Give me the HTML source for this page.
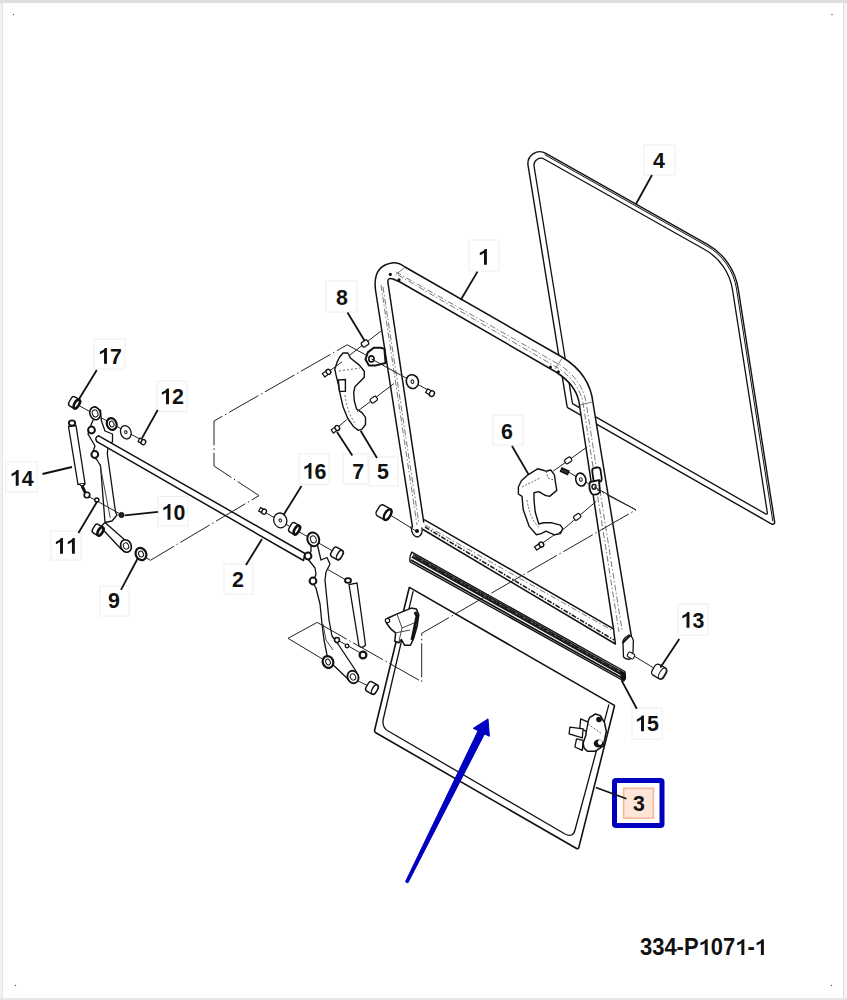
<!DOCTYPE html>
<html><head><meta charset="utf-8"><style>
html,body{margin:0;padding:0;background:#fff;width:847px;height:1000px;overflow:hidden}
svg{display:block}
text{font-family:"Liberation Sans",sans-serif;font-weight:bold}
</style></head><body>
<svg width="847" height="1000" viewBox="0 0 847 1000">

<rect x="0" y="0" width="847" height="1000" fill="#fff"/>
<rect x="0" y="0" width="847" height="3" fill="#dedede"/>
<rect x="0" y="3" width="3" height="997" fill="#f2f2f2"/>
<rect x="2" y="3" width="1" height="995" fill="#e4e4e4"/>
<rect x="843" y="3" width="4" height="997" fill="#f4f4f4"/>
<rect x="843" y="3" width="1" height="995" fill="#dcdcdc"/>
<rect x="0" y="998" width="847" height="2" fill="#e6e6e6"/>
<circle cx="13.5" cy="14.5" r="0.7" fill="#555"/>
<circle cx="831.5" cy="985.5" r="0.7" fill="#555"/>
<circle cx="15.5" cy="985.5" r="0.7" fill="#555"/>
<circle cx="832" cy="14.5" r="0.7" fill="#555"/>
<path d="M545.82,153.33 L707.41,244.35 A62.00,62.00 0 0 1 738.24,288.80 L774.66,521.99 A2.00,2.00 0 0 1 771.69,524.04 L568.03,407.77 A2.00,2.00 0 0 1 567.05,406.36 L528.08,165.71 A12.00,12.00 0 0 1 545.82,153.33 Z" fill="none" stroke="#111" stroke-linejoin="round" stroke-linecap="round" stroke-width="1.4"/>
<path d="M544.42,159.20 L704.65,249.45 A56.00,56.00 0 0 1 732.49,289.60 L767.39,513.04 A1.00,1.00 0 0 1 765.91,514.06 L572.90,403.87 A1.00,1.00 0 0 1 572.41,403.17 L534.08,166.42 A7.00,7.00 0 0 1 544.42,159.20 Z" fill="none" stroke="#111" stroke-linejoin="round" stroke-linecap="round" stroke-width="1.3"/>
<path d="M544.98,154.81 L706.57,245.83 A60.3,60.3 0 0 1 736.56,289.06 L772.75,520.82" fill="none" stroke="#111" stroke-linejoin="round" stroke-linecap="round" stroke-width="1.0"/>
<path d="M412.5,527 L375.5,290 Q372.5,266 392,263 Q398,262 405,267 L562,357 Q590,374 593,403 L631.5,637 L615.4,644 L423,529.5 Z M423.7,522 L388,283 Q387,277 393,279 L400,282 L556,372 Q576,385 579,402 L613.5,628.8 L424.6,519.8 Z" fill="#fff" fill-rule="evenodd" stroke="none"/>
<path d="M412.5,527 L375.5,290 Q372.5,266 392,263 Q398,262 405,267 L562,357 Q590,374 593,403 L631.5,637" fill="none" stroke="#111" stroke-linejoin="round" stroke-linecap="round" stroke-width="1.5"/>
<path d="M423.7,522 L388,283 Q387,277 393,279 L400,282 L556,372 Q576,385 579,402 L613.5,628.8" fill="none" stroke="#111" stroke-linejoin="round" stroke-linecap="round" stroke-width="1.5"/>
<path d="M424.6,519.8 L613.5,628.8" fill="none" stroke="#111" stroke-linejoin="round" stroke-linecap="round" stroke-width="1.5"/>
<path d="M423,529.5 L615.4,644 L613.5,628.8" fill="none" stroke="#111" stroke-linejoin="round" stroke-linecap="round" stroke-width="1.5"/>
<path d="M425,527 L614,640" fill="none" stroke="#222" stroke-width="1.6" stroke-dasharray="5 1.5 1.5 1.5"/>
<circle cx="390.3" cy="274.4" r="1.6" fill="#111"/><circle cx="399" cy="279.8" r="1.6" fill="#111"/>
<circle cx="550.5" cy="367" r="1.5" fill="#111"/><circle cx="558.4" cy="371.7" r="1.5" fill="#111"/>
<path d="M404.8,267.4 L395.7,274.8 M562,358.4 L555,369 M593,401.8 L580,405" fill="none" stroke="#444" stroke-width="0.7"/>
<path d="M411,527 Q412,537 418,537 Q423,535 422,528" fill="none" stroke="#111" stroke-linejoin="round" stroke-linecap="round" stroke-width="1.3"/>
<circle cx="417" cy="531" r="2" fill="#111"/>
<path d="M629,635 Q622,639 623,643 L623.5,657 Q626,660 630,659 Q633,656 633,652 L633.4,640.6 Q632,636 629,635 Z" fill="#fff" stroke="#111" stroke-width="1.3"/>
<path d="M622.5,643 L630,635.5" stroke="#111" stroke-width="2.2"/>
<g transform="translate(631,655.5) rotate(30)"><rect x="-3.5" y="-2.6" width="7" height="5.2" rx="1.5" fill="#fff" stroke="#111" stroke-width="1.1"/></g>
<path d="M381,285 L417,525" fill="none" stroke="#555" stroke-width="0.8" stroke-dasharray="6 2 1.5 2.5"/>
<path d="M396,272 L560,365 Q582,380 586,402 L622,630" fill="none" stroke="#555" stroke-width="0.8" stroke-dasharray="6 2 1.5 2.5"/>
<path d="M425,525 L615,632" fill="none" stroke="#555" stroke-width="0.8" stroke-dasharray="6 2 1.5 2.5"/>
<path d="M383,287 L419,524" fill="none" stroke="#555" stroke-width="0.8" stroke-dasharray="6 2 1.5 2.5"/>
<path d="M398,275 L558,368 Q579,382 583,403 L619,632" fill="none" stroke="#555" stroke-width="0.8" stroke-dasharray="6 2 1.5 2.5"/>
<path d="M411.8,552.2 L624.8,671.5 L625.5,678 L623.8,681 L410.2,561.8 Q409,557 411.8,552.2 Z" fill="#fff" stroke="#111" stroke-width="1.4" stroke-linejoin="round"/>
<path d="M412.5,555.8 L624.5,674.8" fill="none" stroke="#1a1a1a" stroke-width="4.2"/>
<path d="M413,555.5 L623,673.5" fill="none" stroke="#777" stroke-width="1" stroke-dasharray="3 2 1 3"/>
<path d="M411,560 L624,679" fill="none" stroke="#111" stroke-width="1.8"/>
<path d="M620,670 L625.5,673 L625.5,680 L621,680 Z" fill="#111"/>
<path d="M409.88,587.63 L613.94,705.12 A1.00,1.00 0 0 1 614.42,706.23 L578.79,847.58 A1.50,1.50 0 0 1 576.58,848.51 L375.82,732.74 A2.50,2.50 0 0 1 374.64,729.98 L409.14,587.95 A0.50,0.50 0 0 1 409.88,587.63 Z" fill="none" stroke="#111" stroke-linejoin="round" stroke-linecap="round" stroke-width="1.6"/>
<path d="M413,591.6 L383.3,719 Q381.5,728 389,731.5 L565,834 Q573,838 575,830 L608.8,704.9" fill="none" stroke="#111" stroke-linejoin="round" stroke-linecap="round" stroke-width="1.3"/>
<line x1="79.2" y1="405.7" x2="142.4" y2="440.5" stroke="#222" stroke-width="1.0"/>
<path d="M68.5,426.5 L78,484.5 L85,483.5 L76,425.5 Z" fill="#fff" stroke="#111" stroke-width="1.3"/>
<ellipse cx="72" cy="423" rx="3.2" ry="2.6" fill="#fff" stroke="#111" stroke-width="1.8"/>
<path d="M79.5,484 Q82,488 85,484" fill="#fff" stroke="#111" stroke-width="1.4"/>
<path d="M82,486 L86,494" stroke="#111" stroke-width="3"/>
<circle cx="87" cy="495" r="2.8" fill="#fff" stroke="#111" stroke-width="1.6"/>
<path d="M100.5,410 L101.3,420.5 L105,431 L112.5,434 L112.5,441.5 L108,447.5 L107.3,453.5 L115.5,512 L117,515 L112,521 L105,522.5 L100.5,465.5 L97,460 L92,454 L95,446 L88,434 L91,425 L94,418 Z" fill="#fff" stroke="#111" stroke-width="1.3" stroke-linejoin="round"/>
<path d="M99.8,464 L110.3,518" fill="none" stroke="#333" stroke-width="0.9"/>
<circle cx="91.5" cy="430" r="3.4" fill="#fff" stroke="#111" stroke-width="2.0"/>
<circle cx="94.8" cy="454.5" r="3.4" fill="#fff" stroke="#111" stroke-width="2.0"/>
<path d="M98.7,435.8 L305,553.5 L303.5,560.5 L96.9,441.7 Q94,437.5 98.7,435.8 Z" fill="#fff" stroke="#111" stroke-width="1.5" stroke-linejoin="round"/>
<g transform="translate(74.5,402.7) rotate(30)"><rect x="-5.00" y="-5.20" width="10.00" height="10.40" rx="2.86" fill="#fff" stroke="#111" stroke-width="1.4"/><ellipse cx="2.66" cy="0" rx="2.34" ry="4.94" fill="#fff" stroke="#111" stroke-width="2.6"/></g>
<g transform="translate(95.1,413.3) rotate(-20)"><ellipse cx="0" cy="0" rx="5.2" ry="6.5" fill="#fff" stroke="#111" stroke-width="1.6"/><ellipse cx="0" cy="0" rx="2.8" ry="3.6" fill="#fff" stroke="#111" stroke-width="1.0"/></g>
<g transform="translate(111.7,424) rotate(-20)"><ellipse cx="0" cy="0" rx="4.8" ry="6" fill="#fff" stroke="#111" stroke-width="2.2"/><ellipse cx="0" cy="0" rx="2.2" ry="3" fill="#fff" stroke="#111" stroke-width="1.0"/></g>
<g transform="translate(125.8,432.2) rotate(-20)"><ellipse cx="0" cy="0" rx="5.2" ry="6.8" fill="#fff" stroke="#111" stroke-width="1.3"/><ellipse cx="0" cy="0" rx="1.2" ry="1.5" fill="#fff" stroke="#111" stroke-width="1.0"/></g>
<path d="M138.1,441.6 L142.5,443.9 L144.3,440.4 L139.9,438.1 Z" fill="#fff" stroke="#111" stroke-width="1.2"/>
<ellipse cx="143.40736898214732" cy="442.1736789069647" rx="2.2" ry="2.6" transform="rotate(28 143.40736898214732 442.1736789069647)" fill="#fff" stroke="#111" stroke-width="1.4"/>
<path d="M105,522.5 L130.5,545 L126,551 L121.5,549.5 L100.5,527 Z" fill="#fff" stroke="#111" stroke-width="1.3" stroke-linejoin="round"/>
<g transform="translate(98,530) rotate(30)"><rect x="-5.00" y="-5.00" width="10.00" height="10.00" rx="2.75" fill="#fff" stroke="#111" stroke-width="1.4"/><ellipse cx="2.75" cy="0" rx="2.25" ry="4.75" fill="#fff" stroke="#111" stroke-width="2.6"/></g>
<g transform="translate(126,546) rotate(-25)"><ellipse cx="0" cy="0" rx="5.2" ry="6.4" fill="#fff" stroke="#111" stroke-width="1.6"/><ellipse cx="0" cy="0" rx="2.6" ry="3.2" fill="#fff" stroke="#111" stroke-width="1.0"/></g>
<g transform="translate(141,554) rotate(-25)"><ellipse cx="0" cy="0" rx="5.2" ry="6.3" fill="#fff" stroke="#111" stroke-width="2.2"/><ellipse cx="0" cy="0" rx="2.4" ry="3" fill="#fff" stroke="#111" stroke-width="1.0"/></g>
<line x1="88" y1="496" x2="122" y2="515" stroke="#222" stroke-width="1.0"/>
<circle cx="96.8" cy="500" r="2" fill="#fff" stroke="#111" stroke-width="1.5"/>
<circle cx="121.5" cy="515" r="2.6" fill="#222" stroke="#111" stroke-width="1"/>
<line x1="261.9" y1="510.5" x2="337" y2="553.5" stroke="#222" stroke-width="1.0"/>
<path d="M258.8,511.1 L263.2,513.4 L265.0,509.9 L260.6,507.6 Z" fill="#fff" stroke="#111" stroke-width="1.2"/>
<ellipse cx="264.1073689821473" cy="511.6736789069647" rx="2.2" ry="2.6" transform="rotate(28 264.1073689821473 511.6736789069647)" fill="#fff" stroke="#111" stroke-width="1.4"/>
<g transform="translate(280.3,520.4) rotate(-20)"><ellipse cx="0" cy="0" rx="6.5" ry="7.5" fill="#fff" stroke="#111" stroke-width="1.3"/><ellipse cx="0" cy="0" rx="1.2" ry="1.5" fill="#fff" stroke="#111" stroke-width="1.0"/></g>
<g transform="translate(294.5,528.7) rotate(30)"><rect x="-5.00" y="-5.20" width="10.00" height="10.40" rx="2.86" fill="#fff" stroke="#111" stroke-width="1.4"/><ellipse cx="2.66" cy="0" rx="2.34" ry="4.94" fill="#fff" stroke="#111" stroke-width="2.6"/></g>
<path d="M317,543 L320,556 L321,560 L327,557.5 L330,564 L326,572 L325,580 L329,620 L332,636 L338,644 L346,656 L356,671 L357,677 L350,681 L328,660 L324,640 L322,624 L320,604 L316,588 L313,583 L316,574 L315,568 L308,559 L311,551 L311,545 Z" fill="#fff" stroke="#111" stroke-width="1.3" stroke-linejoin="round"/>
<path d="M323,624 L326,640 L333,650" fill="none" stroke="#333" stroke-width="0.9"/>
<circle cx="308" cy="556" r="3.4" fill="#fff" stroke="#111" stroke-width="2.0"/>
<circle cx="313" cy="581" r="3.4" fill="#fff" stroke="#111" stroke-width="2.0"/>
<g transform="translate(313.3,539.3) rotate(-20)"><ellipse cx="0" cy="0" rx="5.8" ry="7" fill="#fff" stroke="#111" stroke-width="2.0"/><ellipse cx="0" cy="0" rx="2.8" ry="3.6" fill="#fff" stroke="#111" stroke-width="1.0"/></g>
<g transform="translate(337,553.5) rotate(30)"><rect x="-5.50" y="-5.40" width="11.00" height="10.80" rx="2.97" fill="#fff" stroke="#111" stroke-width="1.4"/><ellipse cx="3.07" cy="0" rx="2.43" ry="5.13" fill="#fff" stroke="#111" stroke-width="1.4"/></g>
<line x1="327" y1="569" x2="346" y2="580" stroke="#222" stroke-width="1.0"/>
<path d="M349,584.5 L359,646 Q362,649 365.5,645 L357,583 Z" fill="#fff" stroke="#111" stroke-width="1.3"/>
<ellipse cx="348" cy="580.5" rx="3" ry="2.4" fill="#fff" stroke="#111" stroke-width="1.8"/>
<line x1="334" y1="638" x2="366" y2="656" stroke="#222" stroke-width="1.0"/>
<circle cx="337" cy="640" r="2.4" fill="#fff" stroke="#111" stroke-width="1.5"/>
<circle cx="347" cy="646" r="1.8" fill="#fff" stroke="#111" stroke-width="1.3"/>
<circle cx="363" cy="655" r="3.4" fill="#fff" stroke="#111" stroke-width="2.2"/>
<g transform="translate(328,662) rotate(-25)"><ellipse cx="0" cy="0" rx="5.2" ry="6" fill="#fff" stroke="#111" stroke-width="2.2"/><ellipse cx="0" cy="0" rx="2.2" ry="3" fill="#fff" stroke="#111" stroke-width="1.0"/></g>
<g transform="translate(353,677) rotate(-25)"><ellipse cx="0" cy="0" rx="5.4" ry="6.4" fill="#fff" stroke="#111" stroke-width="1.8"/><ellipse cx="0" cy="0" rx="2.6" ry="3.2" fill="#fff" stroke="#111" stroke-width="1.0"/></g>
<line x1="357.4" y1="680.6" x2="371.5" y2="687.6" stroke="#222" stroke-width="1.0"/>
<g transform="translate(372,688) rotate(30)"><rect x="-5.50" y="-5.40" width="11.00" height="10.80" rx="2.97" fill="#fff" stroke="#111" stroke-width="1.4"/><ellipse cx="3.07" cy="0" rx="2.43" ry="5.13" fill="#fff" stroke="#111" stroke-width="1.4"/></g>
<line x1="380.8" y1="331.2" x2="350.1" y2="354.8" stroke="#222" stroke-width="1.0"/>
<g transform="translate(365,343.5) rotate(-35)"><rect x="-3.5" y="-2.6" width="7" height="5.2" rx="1.5" fill="#fff" stroke="#111" stroke-width="1.3"/></g>
<path d="M365.5,359.5 L367.8,352.4 L373.8,347.7 L380.8,347.7 L384.4,348.9 L385.6,363 L376.1,365.4 L369,365.4 Z" fill="#fff" stroke="#111" stroke-width="2" stroke-linejoin="round"/>
<ellipse cx="371.4" cy="358.9" rx="2.6" ry="3" fill="#fff" stroke="#111" stroke-width="1.6"/>
<line x1="371.4" y1="358.9" x2="427" y2="389.5" stroke="#222" stroke-width="1.0"/>
<g transform="translate(412.4,381.6) rotate(-20)"><ellipse cx="0" cy="0" rx="6" ry="7" fill="#fff" stroke="#111" stroke-width="1.6"/><ellipse cx="0" cy="0" rx="1.4" ry="1.8" fill="#fff" stroke="#111" stroke-width="1.0"/></g>
<path d="M425.6,392.6 L430.8,395.6 L433.0,391.8 L427.8,388.8 Z" fill="#fff" stroke="#111" stroke-width="1.2"/>
<ellipse cx="431.8980762113533" cy="393.7" rx="2.4200000000000004" ry="2.8600000000000003" transform="rotate(30 431.8980762113533 393.7)" fill="#fff" stroke="#111" stroke-width="1.4"/>
<path d="M339.5,357.2 L343,353 L347.8,353 L350.7,358.3 L359.6,365.4 L364.3,371.3 L364.3,377.2 L359.6,382 L354.9,386.7 L353.7,392.6 L354.3,400.8 L356.6,409.1 L362,412.6 L365.5,417.4 L365.5,424.5 L362,429.2 L358.4,430.4 L353.7,426.8 L347.8,418.5 L343,406.7 L340.1,393.8 L338.3,384.3 L336,374.9 L334.8,369 L337.2,361.9 Z" fill="#fff" stroke="#111" stroke-width="1.4" stroke-linejoin="round"/>
<path d="M338.3,380 L345.4,379.6 L345.4,391.4 L339.5,391.4 Z" fill="#fff" stroke="#111" stroke-width="1.4"/>
<path d="M339,371 L360,368 M345,395 Q347,412 356,425" fill="none" stroke="#444" stroke-width="0.8" stroke-dasharray="2 2"/>
<line x1="326" y1="373.5" x2="341.9" y2="361.9" stroke="#222" stroke-width="1.0"/>
<path d="M324.7,376.9 L329.6,373.4 L327.3,370.1 L322.4,373.6 Z" fill="#fff" stroke="#111" stroke-width="1.2"/>
<ellipse cx="328.457456132867" cy="371.7792706909469" rx="2.2" ry="2.6" transform="rotate(-35 328.457456132867 371.7792706909469)" fill="#fff" stroke="#111" stroke-width="1.4"/>
<line x1="393.8" y1="383.7" x2="357.2" y2="411.5" stroke="#222" stroke-width="1.0"/>
<g transform="translate(373.8,399.7) rotate(-35)"><rect x="-3.5" y="-2.4" width="7" height="4.8" rx="1.5" fill="#fff" stroke="#111" stroke-width="1.2"/></g>
<line x1="334.8" y1="429.7" x2="346.6" y2="419.7" stroke="#222" stroke-width="1.0"/>
<path d="M333.5,433.1 L338.4,429.6 L336.1,426.3 L331.2,429.8 Z" fill="#fff" stroke="#111" stroke-width="1.2"/>
<ellipse cx="337.257456132867" cy="427.97927069094686" rx="2.2" ry="2.6" transform="rotate(-35 337.257456132867 427.97927069094686)" fill="#fff" stroke="#111" stroke-width="1.4"/>
<line x1="586.8" y1="447.2" x2="553.2" y2="471.2" stroke="#222" stroke-width="1.0"/>
<g transform="translate(568.2,460.4) rotate(-35)"><rect x="-3.5" y="-2.4" width="7" height="4.8" rx="1.5" fill="#fff" stroke="#111" stroke-width="1.2"/></g>
<line x1="566" y1="470.6" x2="594" y2="486.8" stroke="#222" stroke-width="1.0"/>
<path d="M562,468 L569,471 L567.5,474.5 L560.5,471.5 Z" fill="#333" stroke="#111" stroke-width="1.4"/>
<g transform="translate(580.8,479.6) rotate(-15)"><ellipse cx="0" cy="0" rx="5" ry="6.5" fill="#fff" stroke="#111" stroke-width="1.6"/><ellipse cx="0" cy="0" rx="1.4" ry="1.8" fill="#fff" stroke="#111" stroke-width="1.0"/></g>
<rect x="592.8" y="467.6" width="8.4" height="14.4" rx="3" fill="#fff" stroke="#111" stroke-width="1.8" transform="rotate(-8 597 475)"/>
<path d="M590,482 Q588,489 592,494 Q597,496 600,492 L599,480 Z" fill="#fff" stroke="#111" stroke-width="1.8"/>
<ellipse cx="594" cy="486.8" rx="2" ry="2.4" fill="#fff" stroke="#111" stroke-width="1.4"/>
<line x1="594" y1="486.8" x2="636" y2="510" stroke="#222" stroke-width="1.0"/>
<path d="M521.4,480.8 L528,474.8 L537.6,468.8 L542.4,470 L546,471.2 L550.8,470 L554.4,474.8 L555.6,483.2 L556.8,490.4 L549.6,496.4 L544.8,495.2 L538.8,491.6 L534,492.8 L534,500 L535.2,512 L538.8,524 L543.6,522.8 L552,522.8 L560.4,525.2 L562.8,528.8 L560.4,533.6 L554.4,534.8 L546,531.2 L541.2,533.6 L536.4,534.8 L529.2,526.4 L523.2,509.6 L522,496.4 L518.4,494 L518.4,486.8 Z" fill="#fff" stroke="#111" stroke-width="1.4" stroke-linejoin="round"/>
<path d="M546,471.2 L548,478 L554,480 M522,487 L540,478 M527,500 Q530,520 540,528" fill="none" stroke="#444" stroke-width="0.8" stroke-dasharray="2 1.5"/>
<line x1="596.4" y1="501.2" x2="556.8" y2="534.8" stroke="#222" stroke-width="1.0"/>
<g transform="translate(577.2,516.8) rotate(-35)"><rect x="-3.5" y="-2.4" width="7" height="4.8" rx="1.5" fill="#fff" stroke="#111" stroke-width="1.2"/></g>
<line x1="554.4" y1="534.8" x2="541" y2="544" stroke="#222" stroke-width="1.0"/>
<path d="M536.8,550.1 L542.5,546.1 L540.2,542.9 L534.5,546.9 Z" fill="#fff" stroke="#111" stroke-width="1.2"/>
<ellipse cx="541.3670321550114" cy="544.4924824727714" rx="2.2" ry="2.6" transform="rotate(-35 541.3670321550114 544.4924824727714)" fill="#fff" stroke="#111" stroke-width="1.4"/>
<line x1="387" y1="513" x2="416.7" y2="531.4" stroke="#222" stroke-width="1.0"/>
<g transform="translate(384,512.5) rotate(30)"><rect x="-7.00" y="-6.30" width="14.00" height="12.60" rx="3.47" fill="#fff" stroke="#111" stroke-width="1.4"/><ellipse cx="4.17" cy="0" rx="2.83" ry="5.98" fill="#fff" stroke="#111" stroke-width="2.4"/></g>
<line x1="634" y1="656" x2="653" y2="667.5" stroke="#222" stroke-width="1.0"/>
<g transform="translate(659.5,671.8) rotate(30)"><rect x="-7" y="-6.2" width="13.5" height="12.4" rx="3.5" fill="#fff" stroke="#111" stroke-width="1.3"/><ellipse cx="3.2" cy="0" rx="2.6" ry="6" fill="#fff" stroke="#111" stroke-width="1"/></g>
<path d="M386.5,618.8 L389.8,617.2 L397.3,613.9 L411.3,608.1 L416.3,608.9 L418.8,614.7 L417.1,626.3 L413.8,637.9 L410.5,645.3 L404.7,645.3 L401.4,639.5 L398.9,642.8 L394.8,641.2 L395.6,632.9 L390.7,628.8 L388.2,625.5 L386.5,623 Z" fill="#fff" stroke="#111" stroke-width="1.5" stroke-linejoin="round"/>
<path d="M415,612 L417,616 L412,640" fill="none" stroke="#111" stroke-width="3"/>
<path d="M397,614 L402,628 L399,641 M402,628 L414,623 M395,633 L410,630" fill="none" stroke="#333" stroke-width="0.9"/>
<circle cx="387.5" cy="620.5" r="2.2" fill="#fff" stroke="#111" stroke-width="1.2"/>
<path d="M589.8,717.3 L595.5,714 L600.5,715.6 L604.6,723 L606.3,731.3 L604.6,739.6 L603,746.2 L595.5,751.2 L587.3,751.2 L584,747.9 L583.1,742.9 L586,735 L586.4,725 Z" fill="#fff" stroke="#111" stroke-width="1.5" stroke-linejoin="round"/>
<path d="M580.7,718.9 L588.1,722.2 L586.4,731.3 L579.8,728 Z" fill="#fff" stroke="#111" stroke-width="1.3" stroke-linejoin="round"/>
<path d="M569.9,727.2 L583.1,728.8 L582.3,737.9 L569.1,733.8 Z" fill="#fff" stroke="#111" stroke-width="1.3" stroke-linejoin="round"/>
<path d="M576.5,738.8 L583.1,740.4 L582.3,750.3 L574.9,747 Z" fill="#fff" stroke="#111" stroke-width="1.3" stroke-linejoin="round"/>
<circle cx="599" cy="719.5" r="2.8" fill="#111"/>
<ellipse cx="598.5" cy="743.5" rx="4.8" ry="4" fill="#111"/><ellipse cx="600" cy="742.5" rx="2.2" ry="2.4" fill="#fff"/>
<path d="M588,724 L602,734" fill="none" stroke="#444" stroke-width="0.8" stroke-dasharray="2 1.5"/>
<path d="M366.7,355.4 L347.2,344.8 L214,421 L214,466 L259,495.6 L150.4,560.3 L144,556.5" fill="none" stroke="#222" stroke-width="1" stroke-dasharray="34 3 1.5 3"/>
<path d="M317.2,622.4 L288,638.3 L323.4,659.6" fill="none" stroke="#222" stroke-width="1"/>
<path d="M317.2,622.4 L421.7,681.7 L421.7,633.3 L636,509.8 L597,489.7" fill="none" stroke="#222" stroke-width="1" stroke-dasharray="34 3 1.5 3"/>
<rect x="469" y="240" width="30" height="31" fill="#fff" stroke="#eeeeee" stroke-width="1"/>
<line x1="477.5" y1="271.6" x2="460.7" y2="300" stroke="#111" stroke-width="1.8"/>
<g transform="translate(484,264.8) scale(0.93,1)"><path transform="translate(-6.40,0) scale(0.01123,-0.01123)" d="M568,0 H848 V1409 H660 Q580,1230 168,1080 V860 Q400,940 568,1050 Z" fill="#111"/></g>
<rect x="644" y="145" width="31" height="30" fill="#fff" stroke="#eeeeee" stroke-width="1"/>
<line x1="652" y1="175" x2="636" y2="204" stroke="#111" stroke-width="1.8"/>
<g transform="translate(659,167.8) scale(0.93,1)"><text x="-6.40" y="0" font-size="23" fill="#111">4</text></g>
<rect x="326" y="281" width="31" height="31" fill="#fff" stroke="#eeeeee" stroke-width="1"/>
<line x1="347.5" y1="312.5" x2="364.6" y2="340.8" stroke="#111" stroke-width="1.8"/>
<g transform="translate(342,304.8) scale(0.93,1)"><text x="-6.40" y="0" font-size="23" fill="#111">8</text></g>
<rect x="94" y="339" width="31" height="30" fill="#fff" stroke="#eeeeee" stroke-width="1"/>
<line x1="96.8" y1="370" x2="78" y2="400.8" stroke="#111" stroke-width="1.8"/>
<g transform="translate(110,363.8) scale(0.93,1)"><path transform="translate(-12.79,0) scale(0.01123,-0.01123)" d="M568,0 H848 V1409 H660 Q580,1230 168,1080 V860 Q400,940 568,1050 Z" fill="#111"/><text x="0.00" y="0" font-size="23" fill="#111">7</text></g>
<rect x="157" y="381" width="30" height="30.5" fill="#fff" stroke="#eeeeee" stroke-width="1"/>
<line x1="157.7" y1="410" x2="141.7" y2="438.6" stroke="#111" stroke-width="1.8"/>
<g transform="translate(172,404.3) scale(0.93,1)"><path transform="translate(-12.79,0) scale(0.01123,-0.01123)" d="M568,0 H848 V1409 H660 Q580,1230 168,1080 V860 Q400,940 568,1050 Z" fill="#111"/><text x="0.00" y="0" font-size="23" fill="#111">2</text></g>
<rect x="6" y="462" width="31" height="30" fill="#fff" stroke="#eeeeee" stroke-width="1"/>
<line x1="42.5" y1="474" x2="72" y2="467" stroke="#111" stroke-width="1.8"/>
<g transform="translate(21.7,485.8) scale(0.93,1)"><path transform="translate(-12.79,0) scale(0.01123,-0.01123)" d="M568,0 H848 V1409 H660 Q580,1230 168,1080 V860 Q400,940 568,1050 Z" fill="#111"/><text x="0.00" y="0" font-size="23" fill="#111">4</text></g>
<rect x="158" y="496.5" width="30" height="29.5" fill="#fff" stroke="#eeeeee" stroke-width="1"/>
<line x1="158" y1="511.8" x2="125" y2="515.4" stroke="#111" stroke-width="1.8"/>
<g transform="translate(173.5,519.8) scale(0.93,1)"><path transform="translate(-12.79,0) scale(0.01123,-0.01123)" d="M568,0 H848 V1409 H660 Q580,1230 168,1080 V860 Q400,940 568,1050 Z" fill="#111"/><text x="0.00" y="0" font-size="23" fill="#111">0</text></g>
<rect x="51" y="531" width="30" height="29" fill="#fff" stroke="#eeeeee" stroke-width="1"/>
<line x1="78.4" y1="533" x2="97.3" y2="501.3" stroke="#111" stroke-width="1.8"/>
<g transform="translate(66,553.8) scale(0.93,1)"><path transform="translate(-12.79,0) scale(0.01123,-0.01123)" d="M568,0 H848 V1409 H660 Q580,1230 168,1080 V860 Q400,940 568,1050 Z" fill="#111"/><path transform="translate(0.00,0) scale(0.01123,-0.01123)" d="M568,0 H848 V1409 H660 Q580,1230 168,1080 V860 Q400,940 568,1050 Z" fill="#111"/></g>
<rect x="100" y="586" width="29" height="30" fill="#fff" stroke="#eeeeee" stroke-width="1"/>
<line x1="121" y1="589.8" x2="137.4" y2="559" stroke="#111" stroke-width="1.8"/>
<g transform="translate(114,608.3) scale(0.93,1)"><text x="-6.40" y="0" font-size="23" fill="#111">9</text></g>
<rect x="299" y="454" width="30" height="30.5" fill="#fff" stroke="#eeeeee" stroke-width="1"/>
<line x1="301.5" y1="486" x2="283.8" y2="514.5" stroke="#111" stroke-width="1.8"/>
<g transform="translate(314.5,478.8) scale(0.93,1)"><path transform="translate(-12.79,0) scale(0.01123,-0.01123)" d="M568,0 H848 V1409 H660 Q580,1230 168,1080 V860 Q400,940 568,1050 Z" fill="#111"/><text x="0.00" y="0" font-size="23" fill="#111">6</text></g>
<rect x="343" y="454" width="25" height="30" fill="#fff" stroke="#eeeeee" stroke-width="1"/>
<line x1="352.3" y1="455.5" x2="337" y2="432" stroke="#111" stroke-width="1.8"/>
<g transform="translate(358.2,478.8) scale(0.93,1)"><text x="-6.40" y="0" font-size="23" fill="#111">7</text></g>
<rect x="369" y="457" width="29" height="29" fill="#fff" stroke="#eeeeee" stroke-width="1"/>
<line x1="377" y1="458" x2="360.6" y2="430.7" stroke="#111" stroke-width="1.8"/>
<g transform="translate(383,478.8) scale(0.93,1)"><text x="-6.40" y="0" font-size="23" fill="#111">5</text></g>
<rect x="224" y="564" width="29" height="30" fill="#fff" stroke="#eeeeee" stroke-width="1"/>
<line x1="246" y1="565" x2="262" y2="539" stroke="#111" stroke-width="1.8"/>
<g transform="translate(238,586.8) scale(0.93,1)"><text x="-6.40" y="0" font-size="23" fill="#111">2</text></g>
<rect x="493" y="415" width="30" height="30" fill="#fff" stroke="#eeeeee" stroke-width="1"/>
<line x1="512" y1="446" x2="528.5" y2="474.4" stroke="#111" stroke-width="1.8"/>
<g transform="translate(507,438.8) scale(0.93,1)"><text x="-6.40" y="0" font-size="23" fill="#111">6</text></g>
<rect x="678" y="604" width="30" height="31" fill="#fff" stroke="#eeeeee" stroke-width="1"/>
<line x1="679.3" y1="639" x2="660.4" y2="667.4" stroke="#111" stroke-width="1.8"/>
<g transform="translate(692.5,627.8) scale(0.93,1)"><path transform="translate(-12.79,0) scale(0.01123,-0.01123)" d="M568,0 H848 V1409 H660 Q580,1230 168,1080 V860 Q400,940 568,1050 Z" fill="#111"/><text x="0.00" y="0" font-size="23" fill="#111">3</text></g>
<rect x="632" y="708" width="30" height="31" fill="#fff" stroke="#eeeeee" stroke-width="1"/>
<line x1="636.8" y1="708.8" x2="621.5" y2="680.4" stroke="#111" stroke-width="1.8"/>
<g transform="translate(647,731.3) scale(0.93,1)"><path transform="translate(-12.79,0) scale(0.01123,-0.01123)" d="M568,0 H848 V1409 H660 Q580,1230 168,1080 V860 Q400,940 568,1050 Z" fill="#111"/><text x="0.00" y="0" font-size="23" fill="#111">5</text></g>
<rect x="614.5" y="780.5" width="47.5" height="45" rx="1.5" fill="none" stroke="#0000c0" stroke-width="5"/>
<rect x="623.6" y="788.3" width="29.8" height="29.8" fill="#fde6d8" stroke="#f2b898" stroke-width="1.6"/>
<line x1="595.8" y1="787.5" x2="626.5" y2="798.8" stroke="#111" stroke-width="1.6"/>
<g transform="translate(639,810.5) scale(0.93,1)"><text x="-6.40" y="0" font-size="23" fill="#111">3</text></g>
<path d="M407.9,882.9 L484.5,733.9 L489.4,736.3 L488.0,718.9 L473.3,728.3 L478.1,730.7 L405.5,881.7 Z" fill="#0000c0" stroke="#0000c0" stroke-width="1" stroke-linejoin="round"/>
<clipPath id="fc"><rect x="600" y="920" width="170" height="50"/></clipPath>
<g clip-path="url(#fc)"><g transform="translate(640,955) scale(0.955,1)"><text x="0.00" y="0" font-size="23" fill="#111">334-P</text><path transform="translate(61.37,0) scale(0.01123,-0.01123)" d="M568,0 H848 V1409 H660 Q580,1230 168,1080 V860 Q400,940 568,1050 Z" fill="#111"/><text x="74.17" y="0" font-size="23" fill="#111">07</text><path transform="translate(99.75,0) scale(0.01123,-0.01123)" d="M568,0 H848 V1409 H660 Q580,1230 168,1080 V860 Q400,940 568,1050 Z" fill="#111"/><text x="112.54" y="0" font-size="23" fill="#111">-</text><path transform="translate(120.20,0) scale(0.01123,-0.01123)" d="M568,0 H848 V1409 H660 Q580,1230 168,1080 V860 Q400,940 568,1050 Z" fill="#111"/></g></g>
</svg></body></html>
